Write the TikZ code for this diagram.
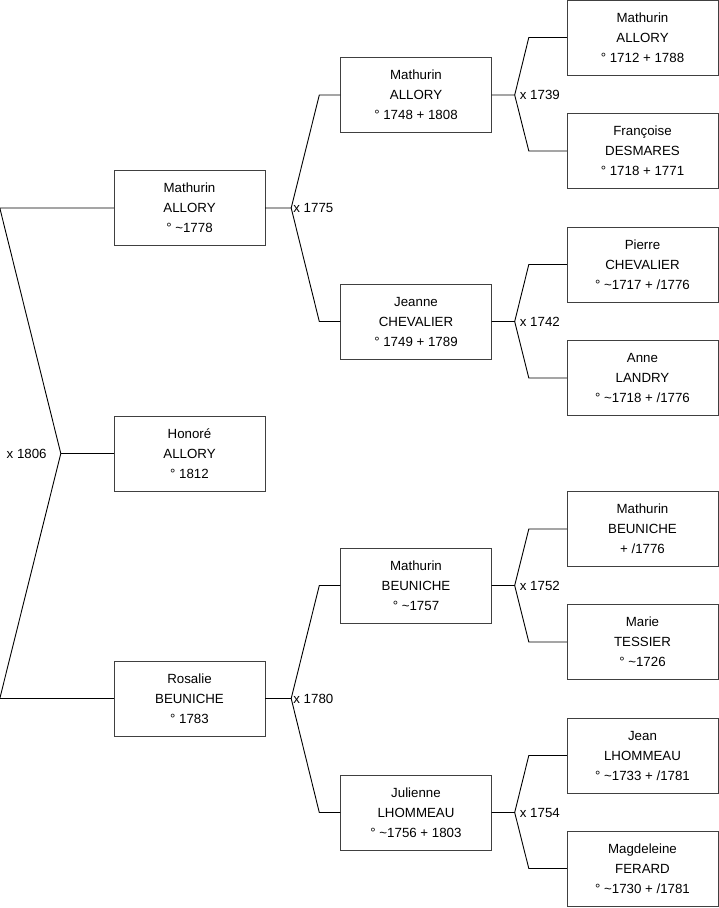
\documentclass[tikz,border=0pt]{standalone}
\usepackage{fontspec}
\setmainfont{Liberation Sans}
\usetikzlibrary{positioning}

\tikzset{
  person/.style={draw=black!75,fill=white,minimum width=151pt,minimum height=75pt,
    inner sep=0pt,align=center,font=\fontsize{13.3}{20}\selectfont},
  union/.style={inner sep=2pt,font=\fontsize{13.3}{15}\selectfont},
  link/.style={draw=black,line width=0.9pt}
}

\begin{document}
\begin{tikzpicture}[x=1pt,y=-1pt]
\useasboundingbox (0,0) rectangle (719,908);

% grandparents
\foreach \n/\y/\txt in {
  gA/37.5/{Mathurin\\ALLORY\\° 1712 + 1788},
  gB/151/{Françoise\\DESMARES\\° 1718 + 1771},
  gC/264.5/{Pierre\\CHEVALIER\\° \textasciitilde1717 + /1776},
  gD/378/{Anne\\LANDRY\\° \textasciitilde1718 + /1776},
  gE/529/{Mathurin\\BEUNICHE\\+ /1776},
  gF/642/{Marie\\TESSIER\\° \textasciitilde1726},
  gG/755.5/{Jean\\LHOMMEAU\\° \textasciitilde1733 + /1781},
  gH/868.5/{Magdeleine\\FERARD\\° \textasciitilde1730 + /1781}}
  \node[person] (\n) at (642.5,\y) {\txt};

% parents
\foreach \n/\y/\txt in {
  pA/95/{Mathurin\\ALLORY\\° 1748 + 1808},
  pB/321.5/{Jeanne\\CHEVALIER\\° 1749 + 1789},
  pC/585.5/{Mathurin\\BEUNICHE\\° \textasciitilde1757},
  pD/812.5/{Julienne\\LHOMMEAU\\° \textasciitilde1756 + 1803}}
  \node[person] (\n) at (416,\y) {\txt};

% couple and child
\node[person] (father) at (189.5,208) {Mathurin\\ALLORY\\° \textasciitilde1778};
\node[person] (child) at (189.5,453.5) {Honoré\\ALLORY\\° 1812};
\node[person] (mother) at (189.5,698.5) {Rosalie\\BEUNICHE\\° 1783};

% marriages
\foreach \c/\f/\m/\yr/\a/\b/\s in {
  father/pA/pB/1775/26/21/0,
  mother/pC/pD/1780/26/21/0,
  pA/gA/gB/1739/23/38/3,
  pB/gC/gD/1742/23/38/3,
  pC/gE/gF/1752/23/38/3,
  pD/gG/gH/1754/23/38/3}{
  \coordinate (x\c) at ([xshift=\a]\c.east);
  \draw[link] (\c.east) -- (x\c) -- ([xshift=-\b]\f.west) -- (\f.west);
  \draw[link] (x\c) -- ([xshift=-\b]\m.west) -- (\m.west);
  \node[union,anchor=west] (u\c) at ([xshift=\s]x\c) {x \yr};
}

% parents of Honoré
\coordinate (xroot) at ([xshift=-53]child.west);
\draw[link] (father.west) -- ([xshift=-114]father.west) -- (xroot)
  -- ([xshift=-114]mother.west) -- (mother.west);
\draw[link] (xroot) -- (child.west);
\node[union,anchor=east] (uroot) at ([xshift=-12]xroot) {x 1806};
\end{tikzpicture}
\end{document}
